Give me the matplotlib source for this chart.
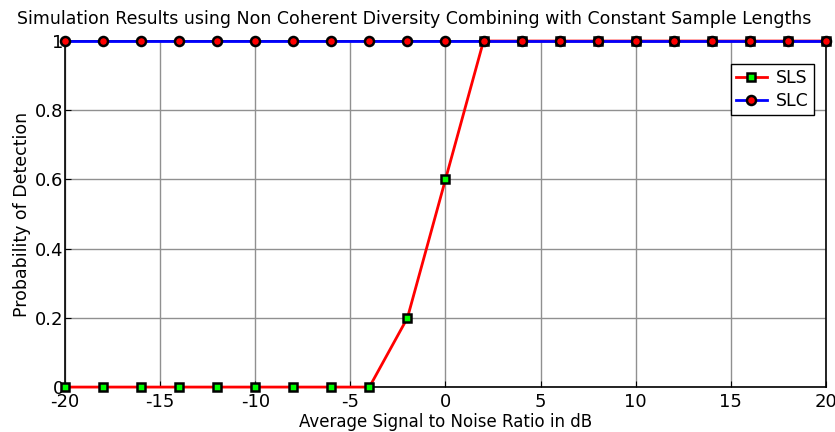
import matplotlib
matplotlib.use("Agg")
import matplotlib.pyplot as plt

snr_db = [-20, -18, -16, -14, -12, -10, -8, -6, -4, -2, 0, 2, 4, 6, 8, 10, 12, 14, 16, 18, 20]
sls = [0, 0, 0, 0, 0, 0, 0, 0, 0, 0.2, 0.6, 1, 1, 1, 1, 1, 1, 1, 1, 1, 1]
slc = [1] * 21
xticks = [-20, -15, -10, -5, 0, 5, 10, 15, 20]
yticks = [0, 0.2, 0.4, 0.6, 0.8, 1]
ytick_labels = ["0", "0.2", "0.4", "0.6", "0.8", "1"]

plt.rcParams['font.family'] = ['DejaVu Sans']
plt.rcParams['axes.unicode_minus'] = False
fig = plt.figure(figsize=(8.35, 4.32), dpi=100)
ax = fig.add_axes([0.078, 0.104, 0.911, 0.801])

ax.plot(snr_db, sls, color='#ff0000', lw=2, marker='s', ms=5.5, mfc='#00ff00',
        mec='black', mew=1.8, label='SLS', clip_on=False, zorder=3)
ax.plot(snr_db, slc, color='#0000ff', lw=2, marker='o', ms=6.5, mfc='#ff0000',
        mec='black', mew=1.8, label='SLC', clip_on=False, zorder=3)

ax.set_xlim(-20, 20)
ax.set_ylim(0, 1)
ax.set_xticks(xticks)
ax.set_yticks(yticks)
ax.set_yticklabels(ytick_labels)
ax.tick_params(direction='in', labelsize=13, length=4)
ax.tick_params(axis='x', pad=4)
ax.tick_params(axis='y', pad=1)
ax.grid(True, color='#909090', lw=1)
for s in ax.spines.values():
    s.set_color('black')
    s.set_linewidth(1.2)

ax.set_xlabel('Average Signal to Noise Ratio in dB', fontsize=12, labelpad=2)
ax.set_ylabel('Probability of Detection', fontsize=12.5, labelpad=3)
fig.text(0.496, 1 - 19 / 432,
         'Simulation Results using Non Coherent Diversity Combining with Constant Sample Lengths',
         fontsize=12.5, ha='center', va='center')

leg = ax.legend(loc='upper right', bbox_to_anchor=(0.984, 0.933), borderaxespad=0,
                fontsize=12.5, fancybox=False, edgecolor='black', framealpha=1,
                handlelength=1.8, borderpad=0.3, labelspacing=0.25, handletextpad=0.5)
leg.get_frame().set_linewidth(1)

fig.savefig('out.png', dpi=100)
